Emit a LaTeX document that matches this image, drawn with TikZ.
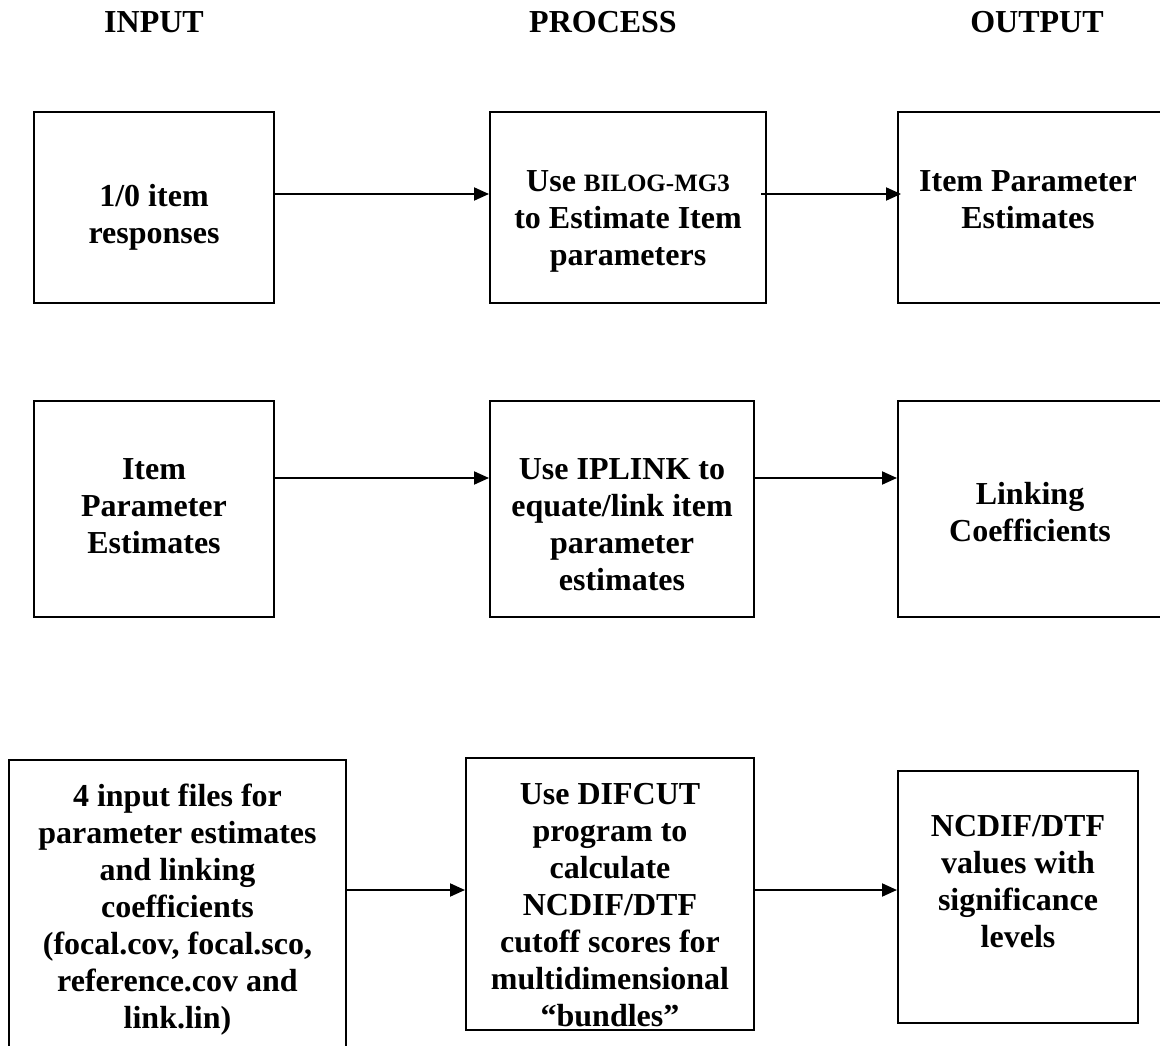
\documentclass[tikz,border=0pt]{standalone}
\usepackage{fontspec}
\setmainfont{Liberation Serif}
\usetikzlibrary{arrows.meta}
\begin{document}
\begin{tikzpicture}[x=1pt,y=-1pt,
  box/.style={draw, line width=2pt, inner sep=0pt},
  txt/.style={font=\fontsize{32}{37}\selectfont\bfseries, align=center, inner sep=0pt},
  hdr/.style={font=\fontsize{32}{37}\selectfont\bfseries, inner sep=0pt},
  arr/.style={-{Triangle[length=15pt,width=13pt]}, line width=2pt}]
\useasboundingbox (0,0) rectangle (1160,1046);
\clip (0,0) rectangle (1160,1046);
\fill[white] (0,0) rectangle (1160,1046);

% headers
\node[hdr] (h1) at (154,22) {INPUT};
\node[hdr] (h2) at (603,22) {PROCESS};
\node[hdr] (h3) at (1037,22) {OUTPUT};

% boxes
\node[box, minimum width=240pt, minimum height=191pt] (A) at (154,207.5) {};
\node[box, minimum width=276pt, minimum height=191pt] (B) at (628,207.5) {};
\node[box, minimum width=272pt, minimum height=191pt] (C) at (1034,207.5) {};
\node[box, minimum width=240pt, minimum height=216pt] (D) at (154,509) {};
\node[box, minimum width=264pt, minimum height=216pt] (E) at (622,509) {};
\node[box, minimum width=272pt, minimum height=216pt] (F) at (1034,509) {};
\node[box, minimum width=337pt, minimum height=310pt] (G) at (177.5,915) {};
\node[box, minimum width=288pt, minimum height=272pt] (H) at (610,894) {};
\node[box, minimum width=240pt, minimum height=252pt] (I) at (1018,897) {};

% texts
\node[txt] (tA) at (154,217) {1/0 item\\responses};
\node[txt] (tB) at (628,221) {Use {\fontsize{25}{37}\selectfont BILOG-MG3}\\to Estimate Item\\parameters};
\node[txt] (tC) at (1028,200) {Item Parameter\\Estimates};
\node[txt] (tD) at (154,506) {Item\\Parameter\\Estimates};
\node[txt] (tE) at (622,525) {Use IPLINK to\\equate/link item\\parameter\\estimates};
\node[txt] (tF) at (1030,512) {Linking\\Coefficients};
\node[txt] (tG) at (177.5,910) {4 input files for\\parameter estimates\\and linking\\coefficients\\(focal.cov, focal.sco,\\reference.cov and\\link.lin)};
\node[txt] (tH) at (610,905) {Use DIFCUT\\program to\\calculate\\NCDIF/DTF\\cutoff scores for\\multidimensional\\“bundles”};
\node[txt] (tI) at (1018,882) {NCDIF/DTF\\values with\\significance\\levels};

% arrows
\draw[arr] (A.east |- 0,194) -- (B.west |- 0,194);
\draw[arr] ([xshift=-6pt]B.east |- 0,194) -- ([xshift=4pt]C.west |- 0,194);
\draw[arr] (D.east |- 0,478) -- (E.west |- 0,478);
\draw[arr] (E.east |- 0,478) -- (F.west |- 0,478);
\draw[arr] (G.east |- 0,890) -- (H.west |- 0,890);
\draw[arr] (H.east |- 0,890) -- (I.west |- 0,890);
\end{tikzpicture}
\end{document}
